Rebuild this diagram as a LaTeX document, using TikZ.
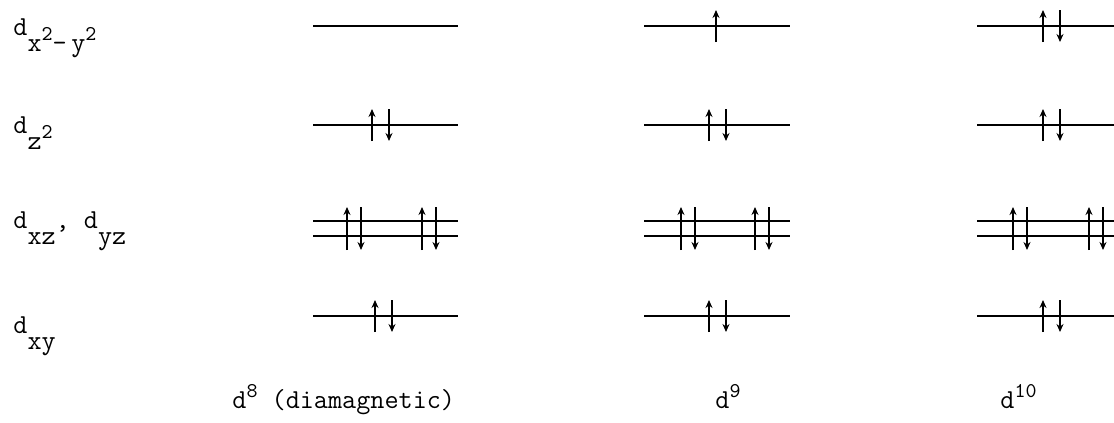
\documentclass[tikz,border=0pt]{standalone}
\usetikzlibrary{arrows.meta}

\newcommand{\lowr}[1]{\raisebox{-8pt}{#1}}
\newcommand{\uppr}[1]{\raisebox{5.5pt}{\fontsize{10.5}{12}\selectfont #1}}

\begin{document}
\begin{tikzpicture}[
  x=0.5pt, y=-0.5pt,
  lbl/.style={anchor=base west, inner sep=0pt, font=\ttfamily\fontsize{13.7}{15}\selectfont},
  level/.style={line width=1.2pt},
  spinup/.style={line width=1.4pt, -{Stealth[length=4pt,width=3.5pt]}},
  spindn/.style={line width=1.4pt, {Stealth[length=4pt,width=3.5pt]}-}
]
  \useasboundingbox (0,0) rectangle (1114,423);

  % orbital labels
  \node[lbl] (xy2) at (13,35)  {d\lowr{x\uppr{2}-\,y\uppr{2}}};
  \node[lbl] (z2)  at (13,133) {d\lowr{z\uppr{2}}};
  \node[lbl] (xz)  at (13,228) {d\lowr{xz}, d\lowr{yz}};
  \node[lbl] (xy)  at (13,333) {d\lowr{xy}};

  % levels, one column per configuration
  \foreach \c/\w in {313/145, 644/146, 977/137} {
    \draw[level] (\c,26) -- ++(\w,0);
    \draw[level] (\c,125) -- ++(\w,0);
    \draw[level] (\c,221) -- ++(\w,0);
    \draw[level] (\c,236) -- ++(\w,0);
    \draw[level] (\c,316) -- ++(\w,0);
  }

  % single-line levels: paired electrons
  \foreach \x/\y in {372/125, 375/316, 709/125, 709/316, 1043/26, 1043/125, 1043/316} {
    \draw[spinup] (\x,\y+16) -- (\x,\y-16);
    \draw[spindn] (\x+17,\y+16) -- (\x+17,\y-16);
  }
  % unpaired electron of d9
  \draw[spinup] (716,42) -- (716,10);

  % double levels d_xz, d_yz
  \foreach \x in {347, 422, 681, 755, 1013, 1089} {
    \draw[spinup] (\x,250) -- (\x,207);
    \draw[spindn] (\x+14,250) -- (\x+14,207);
  }

  % configurations
  \node[lbl] (c8)  at (232,408)  {d\uppr{8} (diamagnetic)};
  \node[lbl] (c9)  at (715,408)  {d\uppr{9}};
  \node[lbl] (c10) at (1000,408) {d\uppr{10}};
\end{tikzpicture}
\end{document}
